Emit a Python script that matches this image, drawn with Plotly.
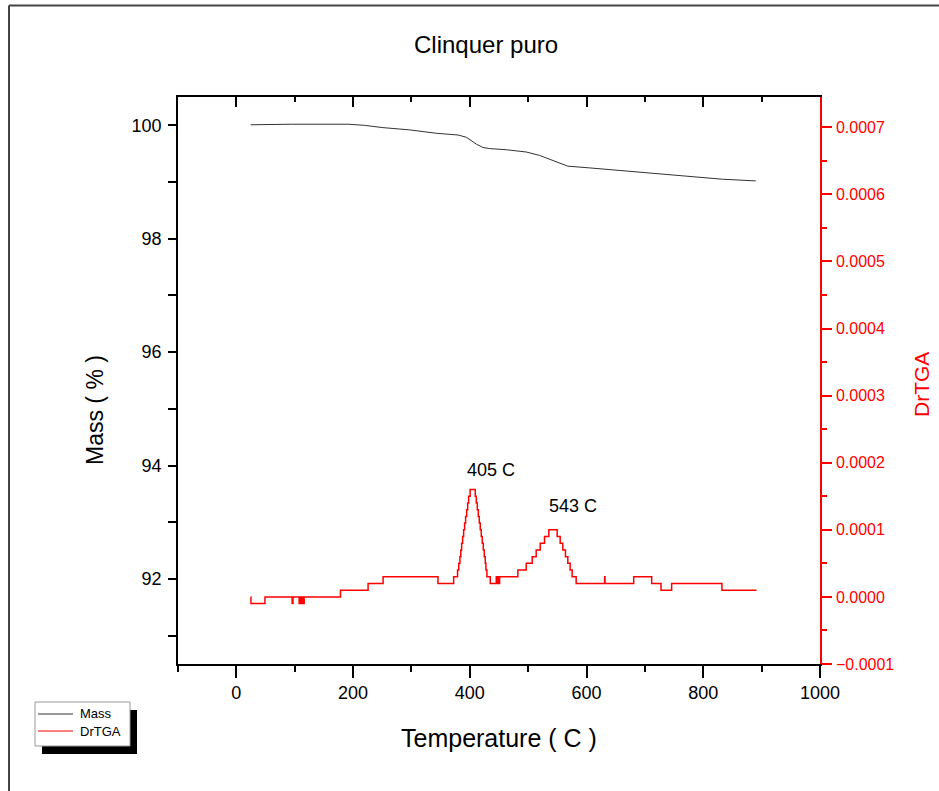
import plotly.graph_objects as go

# ---------------- data ----------------
mass_temp = [24.4, 94.6, 191.5, 220, 251, 297, 342.7, 379.7, 394, 411, 422.4, 433.9,
             462.4, 496.7, 519.4, 548, 567.9, 605, 662, 719, 776, 833, 890]
mass_pct = [100.01, 100.02, 100.02, 100.0, 99.96, 99.92, 99.86, 99.83, 99.79, 99.67, 99.61, 99.59,
            99.57, 99.53, 99.47, 99.35, 99.28, 99.25, 99.20, 99.14, 99.09, 99.05, 99.02]

dtga_temp = [24.5, 25, 49, 95.6, 97, 107.6, 108.5, 109.5, 110.5, 111.5, 112.5, 113.5, 114.5, 115.5, 116.2,
             178.4, 225.7, 251.4, 345.4, 372.3,
             379, 381, 383, 384.5, 386, 387.7, 389.4, 391.1, 392.8, 394.6, 396.3, 398, 400.5,
             409.3, 411.1, 412.8, 414.5, 416.2, 417.9, 419.6, 421.3, 423.1, 424.8, 426.5, 427.6, 429.3,
             435, 445.3, 446.3, 447.3, 448.3, 449.3, 450.3, 451,
             482.3, 496.6, 506.9, 513.7, 520.6, 528, 535.4, 549.7, 554.8, 559.3, 563.9, 567.9, 571.9, 575.3,
             582.2, 631, 631.6, 680.8, 711.6, 727.6, 745.8, 832, 891.2]
dtga_val = [0.0, -0.00001, 0.0, -0.00001, 0.0, -0.00001, 0.0, -0.00001, 0.0, -0.00001, 0.0, -0.00001, 0.0, -0.00001, 0.0,
            0.00001, 0.00002, 0.00003, 0.00002, 0.00003,
            0.00004, 0.00005, 0.00006, 0.00007, 0.00008, 0.00009, 0.00010, 0.00011, 0.00012, 0.00013, 0.00014, 0.00015, 0.00016,
            0.00015, 0.00014, 0.00013, 0.00012, 0.00011, 0.00010, 0.00009, 0.00008, 0.00007, 0.00006, 0.00005, 0.00004, 0.00003,
            0.00002, 0.00003, 0.00002, 0.00003, 0.00002, 0.00003, 0.00002, 0.00003,
            0.00004, 0.00005, 0.00006, 0.00007, 0.00008, 0.00009, 0.00010, 0.00009, 0.00008, 0.00007, 0.00006, 0.00005, 0.00004, 0.00003,
            0.00002, 0.00003, 0.00002, 0.00003, 0.00002, 0.00001, 0.00002, 0.00001, 0.00001]

series_names = ["Mass", "DrTGA"]
series_colors = ["#333333", "#ff0000"]

peak_labels = ["405 C", "543 C"]
peak_label_x = [391.5, 532.5]
peak_label_y = [0.000189, 0.000136]

FONT = "Arial, 'Liberation Sans', sans-serif"

# ---------------- figure ----------------
fig = go.Figure()
fig.add_trace(go.Scatter(x=mass_temp, y=mass_pct, mode="lines", name=series_names[0],
                         line=dict(color=series_colors[0], width=1), yaxis="y"))
fig.add_trace(go.Scatter(x=dtga_temp, y=dtga_val, mode="lines", name=series_names[1],
                         line=dict(color=series_colors[1], width=1.5, shape="hv"), yaxis="y2"))
# dummy trace to activate the top mirror axis
fig.add_trace(go.Scatter(x=[None], y=[None], xaxis="x2", yaxis="y", showlegend=False))

W, H = 939, 791
L, R, T, B = 178, 119, 97, 127
pw, ph = W - L - R, H - T - B


def px_x(p):
    return (p - L) / pw


def px_y(p):
    return (H - B - p) / ph


fig.update_layout(
    width=W, height=H, autosize=False,
    margin=dict(l=L, r=R, t=T, b=B, pad=0),
    paper_bgcolor="white", plot_bgcolor="white",
    font=dict(family=FONT, color="black", size=18),
    showlegend=False,
    xaxis=dict(range=[-100, 1000], dtick=200, tick0=0, showgrid=False, zeroline=False,
               showline=True, linecolor="black", linewidth=1.5,
               ticks="outside", ticklen=12, tickwidth=1.5, tickcolor="black",
               minor=dict(dtick=100, tick0=-100, ticks="outside", ticklen=6, tickwidth=1.5, tickcolor="black"),
               tickfont=dict(size=18)),
    xaxis2=dict(range=[-100, 1000], overlaying="x", side="top", anchor="y", dtick=200, tick0=0,
                showgrid=False, zeroline=False, showline=True, linecolor="black", linewidth=1.5,
                ticks="inside", ticklen=10, tickwidth=1.5, tickcolor="black", showticklabels=False,
                minor=dict(dtick=100, tick0=-100, ticks="inside", ticklen=5, tickwidth=1.5, tickcolor="black")),
    yaxis=dict(range=[90.5, 100.5], dtick=2, tick0=92, showgrid=False, zeroline=False,
               showline=True, linecolor="black", linewidth=1.5,
               ticks="outside", ticklen=8, tickwidth=1.5, tickcolor="black",
               minor=dict(dtick=1, tick0=91, ticks="outside", ticklen=8, tickwidth=1.5, tickcolor="black"),
               tickfont=dict(size=18), ticklabelstandoff=3),
    yaxis2=dict(range=[-0.0001, 0.000745], overlaying="y", side="right", anchor="x",
                dtick=0.0001, tick0=0, tickformat=".4f", showgrid=False, zeroline=False,
                showline=True, linecolor="#ff0000", linewidth=1.5,
                ticks="outside", ticklen=10, tickwidth=1.5, tickcolor="#ff0000",
                minor=dict(dtick=0.00005, tick0=0, ticks="outside", ticklen=5, tickwidth=1.5, tickcolor="#ff0000"),
                tickfont=dict(size=16, color="#ff0000"), ticklabelstandoff=1),
)

annotations = [
    dict(text="Clinquer puro", x=px_x(486), y=px_y(44), xref="paper", yref="paper",
         showarrow=False, font=dict(size=24), xanchor="center", yanchor="middle"),
    dict(text="Mass ( % )", x=px_x(95), y=px_y(410), xref="paper", yref="paper",
         showarrow=False, font=dict(size=23), textangle=-90, xanchor="center", yanchor="middle"),
    dict(text="Temperature ( C )", x=px_x(499), y=px_y(738), xref="paper", yref="paper",
         showarrow=False, font=dict(size=25), xanchor="center", yanchor="middle"),
    dict(text="DrTGA", x=px_x(921), y=px_y(385), xref="paper", yref="paper",
         showarrow=False, font=dict(size=21, color="#ff0000"), textangle=-90,
         xanchor="center", yanchor="middle"),
]
for lbl, lx, ly in zip(peak_labels, peak_label_x, peak_label_y):
    annotations.append(dict(text=lbl, x=lx, y=ly, xref="x", yref="y2", showarrow=False,
                            font=dict(size=18), xanchor="left", yanchor="middle"))

# custom legend (Origin style box with drop shadow)
leg_x0, leg_x1, leg_y0, leg_y1 = 35, 130, 702, 746
leg_rows = [714, 731]
shapes = [
    dict(type="rect", xref="paper", yref="paper", x0=px_x(leg_x0 + 7), x1=px_x(leg_x1 + 7),
         y0=px_y(leg_y0 + 8), y1=px_y(leg_y1 + 8), fillcolor="black", line=dict(width=0), layer="above"),
    dict(type="rect", xref="paper", yref="paper", x0=px_x(leg_x0), x1=px_x(leg_x1),
         y0=px_y(leg_y0), y1=px_y(leg_y1), fillcolor="white", line=dict(color="#999999", width=1),
         layer="above"),
]
for name, col, ry in zip(series_names, series_colors, leg_rows):
    shapes.append(dict(type="line", xref="paper", yref="paper", x0=px_x(38), x1=px_x(73),
                       y0=px_y(ry), y1=px_y(ry), line=dict(color=col, width=1.2), layer="above"))
    annotations.append(dict(text=name, x=px_x(78), y=px_y(ry), xref="paper", yref="paper",
                            showarrow=False, font=dict(size=13), xanchor="left", yanchor="middle"))

# outer frame (top and left edges)
shapes += [
    dict(type="line", xref="paper", yref="paper", x0=px_x(9), x1=px_x(945), y0=px_y(5.5), y1=px_y(5.5),
         line=dict(color="#444444", width=2)),
    dict(type="line", xref="paper", yref="paper", x0=px_x(9), x1=px_x(9), y0=px_y(5.5), y1=px_y(800),
         line=dict(color="#444444", width=2)),
]
fig.update_layout(annotations=annotations, shapes=shapes)

fig.write_html("out.html")
